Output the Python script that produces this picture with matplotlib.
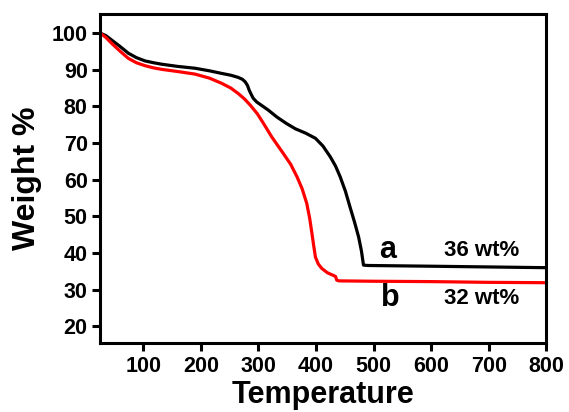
import matplotlib.pyplot as plt

# TGA curves
temp_a = [25, 35, 45, 60, 74, 88, 103, 118, 132, 160, 190, 215, 236, 252, 265, 272, 277, 281, 284,
          288, 291, 297, 307, 317, 332, 348, 364, 382, 399, 412, 425, 434, 442, 451, 459, 467, 474,
          479, 482.5, 490, 600, 700, 800]
wt_a = [100, 99.3, 98.1, 96.3, 94.5, 93.3, 92.4, 91.9, 91.5, 90.9, 90.4, 89.7, 89, 88.5, 87.9, 87.4,
        86.7, 85.7, 84.4, 83.1, 82.2, 81.2, 80.1, 79, 77.1, 75.4, 73.9, 72.7, 71.3, 69.2, 66.2, 63.7,
        60.8, 56.9, 52.6, 48.4, 44.4, 40.5, 36.7, 36.6, 36.4, 36.2, 36.0]

temp_b = [25, 35, 45, 60, 74, 88, 103, 118, 132, 160, 190, 215, 236, 252, 265, 276, 286, 298, 309,
          323, 343, 356, 367, 376, 384, 389, 393, 396, 399, 404, 410, 420, 430, 434, 436, 440, 500,
          600, 700, 800]
wt_b = [100, 98.8, 97.2, 95, 93.1, 91.9, 91.1, 90.5, 90.1, 89.5, 88.8, 87.7, 86.3, 85, 83.5, 82,
        80.3, 78, 75.3, 71.7, 67.2, 64.2, 60.8, 57.5, 53.5, 49.5, 45.3, 42, 38.9, 37, 35.8, 34.6,
        33.9, 33.6, 32.6, 32.4, 32.3, 32.2, 32.0, 31.9]

xticks = [100, 200, 300, 400, 500, 600, 700, 800]
yticks = [20, 30, 40, 50, 60, 70, 80, 90, 100]

plt.rcParams['font.family'] = ['Liberation Sans', 'DejaVu Sans']
plt.rcParams['font.weight'] = 'bold'

fig = plt.figure(figsize=(5.69, 4.12), dpi=100)
ax = fig.add_axes([0.176, 0.167, 0.784, 0.799])

ax.plot(temp_a, wt_a, color='black', lw=2.3, solid_joinstyle='round')
ax.plot(temp_b, wt_b, color='red', lw=2.3, solid_joinstyle='round')

ax.text(525, 40.8, 'a', fontsize=22, ha='center', va='center')
ax.text(687, 40.8, '36 wt%', fontsize=16, ha='center', va='center')
ax.text(529, 27.6, 'b', fontsize=22, ha='center', va='center')
ax.text(687, 27.6, '32 wt%', fontsize=16, ha='center', va='center')

ax.set_xlim(25, 800)
ax.set_ylim(15.4, 105.2)
ax.set_xticks(xticks)
ax.set_yticks(yticks)
ax.tick_params(direction='out', length=6, width=2.2, labelsize=15.5, pad=3)
for s in ax.spines.values():
    s.set_linewidth(2.2)

ax.set_xlabel('Temperature', fontsize=22, fontweight='bold')
ax.set_ylabel('Weight %', fontsize=23, fontweight='bold')
ax.xaxis.set_label_coords(0.5, -0.112)
ax.yaxis.set_label_coords(-0.13, 0.5)

fig.savefig('out.png')
